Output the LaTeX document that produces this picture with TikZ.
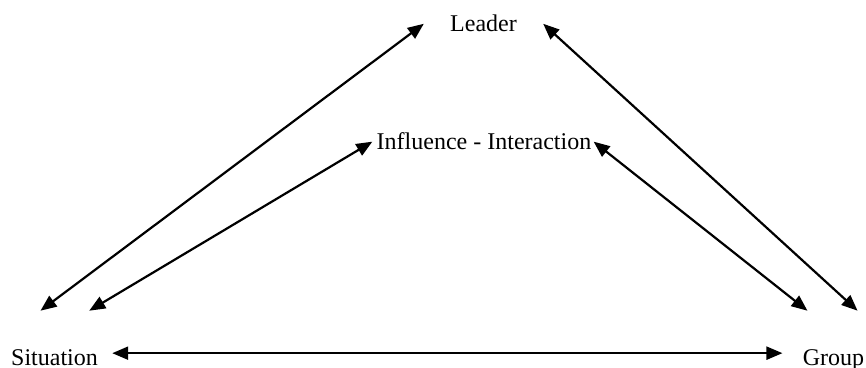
\documentclass[tikz,border=0pt]{standalone}
\usepackage{fontspec}
\setmainfont{Liberation Serif}
\usetikzlibrary{positioning,arrows.meta}
\tikzset{x=0.5pt, y=-0.5pt,
  word/.style={inner sep=0pt, anchor=base, font=\fontsize{12}{14}\selectfont},
  link/.style={{Triangle[length=8pt,width=6.5pt]}-{Triangle[length=8pt,width=6.5pt]}, line width=1.1pt}}

\begin{document}
\begin{tikzpicture}
              \useasboundingbox (0,0) rectangle (866,368);

              \node[word] (leader) at (483.5,32) {Leader};
              \node[word] (infl) at (484,150) {Influence - Interaction};
              \node[word] (sit) at (54.5,365) {Situation};
              \node[word] (grp) at (833.5,365) {Group};

              \draw [link] ([shift={(-14,-38)}]sit.north) to ([xshift=-13pt]leader.west);
              \draw [link] ([shift={(-9,-38)}]sit.north east) to ([xshift=-2pt]infl.west);
              \draw [link] ([shift={(-7,-38)}]grp.north east) to ([xshift=13pt]leader.east);
              \draw [link] ([shift={(5,-38)}]grp.north west) to ([xshift=1pt]infl.east);
              \draw [link] ([xshift=7pt,yshift=2pt]sit.east) to ([xshift=-10pt,yshift=2pt]grp.west |- sit.east);
            \end{tikzpicture}
\end{document}
